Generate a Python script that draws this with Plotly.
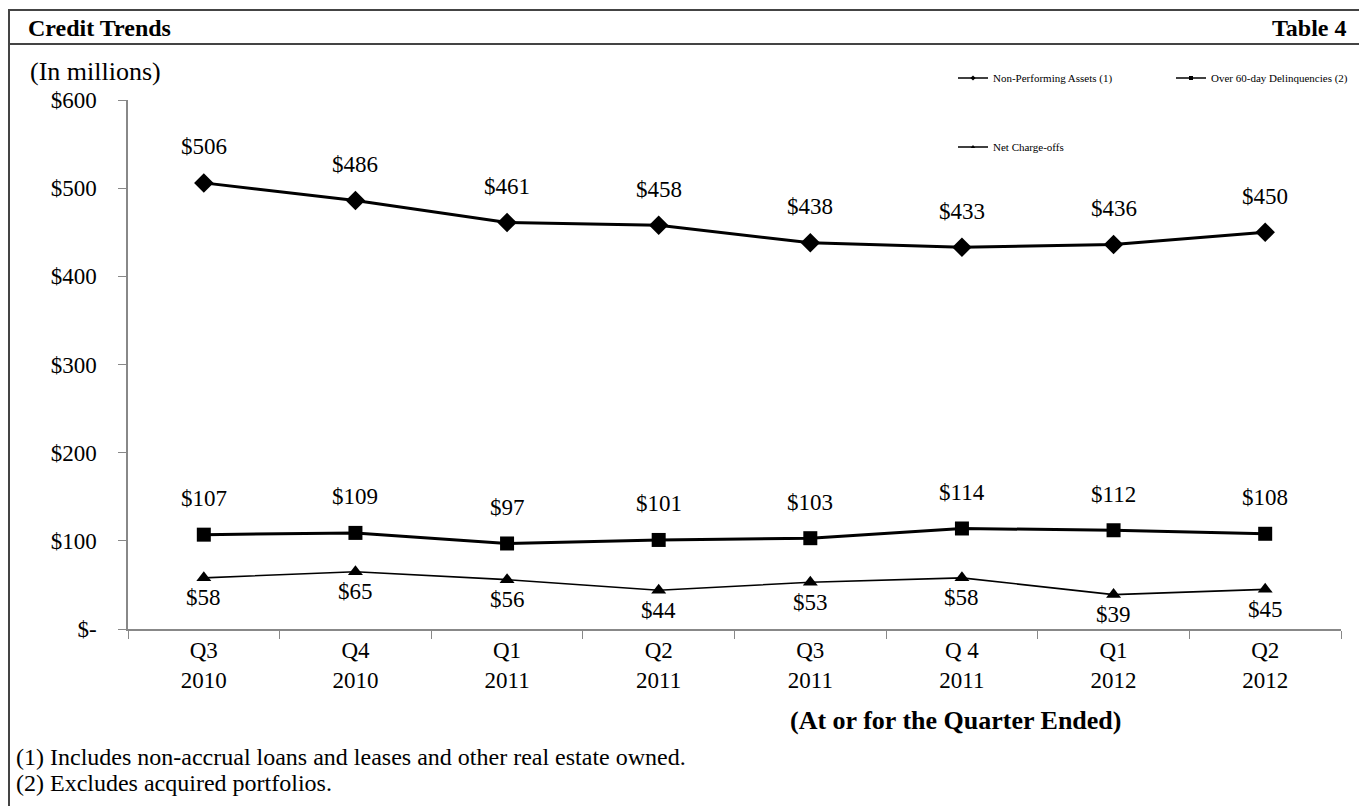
import plotly.graph_objects as go

quarters = ["Q3<br>2010", "Q4<br>2010", "Q1<br>2011", "Q2<br>2011",
            "Q3<br>2011", "Q 4<br>2011", "Q1<br>2012", "Q2<br>2012"]
npa = [506, 486, 461, 458, 438, 433, 436, 450]
delinq = [107, 109, 97, 101, 103, 114, 112, 108]
chargeoffs = [58, 65, 56, 44, 53, 58, 39, 45]

y_tickvals = [0, 100, 200, 300, 400, 500, 600]
y_ticktext = ["$-", "$100", "$200", "$300", "$400", "$500", "$600"]

# the page places the figure 8px in from the top-left corner (body margin)
OFF = 8
W, H = 1367 - OFF, 806 - OFF
PL, PR, PT, PB = 128, 1341, 100, 629          # plot area in screen pixels
L, R, T, B = PL - OFF, W - (PR - OFF), PT - OFF, H - (PB - OFF)
PW, PH = W - L - R, H - T - B

def px(x):   # screen x -> paper
    return (x - OFF - L) / PW

def py(y):   # screen y -> paper
    return (H - B - (y - OFF)) / PH

FONT = "Liberation Serif, Times New Roman, serif"

fig = go.Figure()

fig.add_trace(go.Scatter(x=quarters, y=npa, mode="lines+markers", showlegend=False,
                         line=dict(color="black", width=3),
                         marker=dict(symbol="diamond", size=15, color="black")))
fig.add_trace(go.Scatter(x=quarters, y=delinq, mode="lines+markers", showlegend=False,
                         line=dict(color="black", width=3),
                         marker=dict(symbol="square", size=14, color="black")))
fig.add_trace(go.Scatter(x=quarters, y=chargeoffs, mode="lines+markers", showlegend=False,
                         line=dict(color="black", width=1.6),
                         marker=dict(symbol="triangle-up", size=13, color="black")))

# legend entries
fig.add_trace(go.Scatter(x=[None], y=[None], mode="lines+markers", name="Non-Performing Assets (1)",
                         line=dict(color="black", width=1.5),
                         marker=dict(symbol="diamond", size=4, color="black"), legend="legend"))
fig.add_trace(go.Scatter(x=[None], y=[None], mode="lines+markers", name="Over 60-day Delinquencies (2)",
                         line=dict(color="black", width=1.5),
                         marker=dict(symbol="square", size=4, color="black"), legend="legend2"))
fig.add_trace(go.Scatter(x=[None], y=[None], mode="lines+markers", name="Net Charge-offs",
                         line=dict(color="black", width=1.5),
                         marker=dict(symbol="triangle-up", size=4, color="black"), legend="legend3"))

LBL = dict(size=23, family=FONT, color="black")
annotations = []
for q, v in zip(quarters, npa):
    annotations.append(dict(x=q, y=v, text=f"${v}", showarrow=False, yshift=36, font=LBL))
for q, v in zip(quarters, delinq):
    annotations.append(dict(x=q, y=v, text=f"${v}", showarrow=False, yshift=36, font=LBL))
for q, v in zip(quarters, chargeoffs):
    annotations.append(dict(x=q, y=v, text=f"${v}", showarrow=False, yshift=-20, font=LBL))

annotations += [
    dict(xref="paper", yref="paper", x=px(26), y=py(28), xanchor="left", yanchor="middle",
         text="<b>Credit Trends</b>", showarrow=False, font=dict(size=24, family=FONT, color="black")),
    dict(xref="paper", yref="paper", x=px(1348), y=py(28), xanchor="right", yanchor="middle",
         text="<b>Table 4</b>", showarrow=False, font=dict(size=24, family=FONT, color="black")),
    dict(xref="paper", yref="paper", x=px(28), y=py(72), xanchor="left", yanchor="middle",
         text="(In millions)", showarrow=False, font=dict(size=26, family=FONT, color="black")),
    dict(xref="paper", yref="paper", x=px(955), y=py(721), xanchor="center", yanchor="middle",
         text="<b>(At or for the Quarter Ended)</b>", showarrow=False,
         font=dict(size=26, family=FONT, color="black")),
    dict(xref="paper", yref="paper", x=px(14), y=py(757), xanchor="left", yanchor="middle",
         text="(1) Includes non-accrual loans and leases and other real estate owned.", showarrow=False,
         font=dict(size=24, family=FONT, color="black")),
    dict(xref="paper", yref="paper", x=px(14), y=py(783), xanchor="left", yanchor="middle",
         text="(2) Excludes acquired portfolios.", showarrow=False,
         font=dict(size=24, family=FONT, color="black")),
]

frame = "#444444"
shapes = [
    dict(type="line", xref="paper", yref="paper", x0=px(8), x1=px(1367), y0=py(10), y1=py(10),
         line=dict(color=frame, width=2)),
    dict(type="line", xref="paper", yref="paper", x0=px(8), x1=px(1367), y0=py(44), y1=py(44),
         line=dict(color=frame, width=2)),
    dict(type="line", xref="paper", yref="paper", x0=px(9), x1=px(9), y0=py(10), y1=py(806),
         line=dict(color=frame, width=2)),
]

LEG = dict(orientation="h", xanchor="left", yanchor="middle",
           font=dict(size=11, family=FONT, color="black"),
           bgcolor="rgba(0,0,0,0)", itemwidth=30)

fig.update_layout(
    width=W, height=H,
    margin=dict(l=L, r=R, t=T, b=B, autoexpand=False),
    paper_bgcolor="white", plot_bgcolor="white",
    font=dict(family=FONT, size=23, color="black"),
    annotations=annotations, shapes=shapes,
    legend=dict(LEG, x=px(953), y=py(78)),
    legend2=dict(LEG, x=px(1171), y=py(78)),
    legend3=dict(LEG, x=px(953), y=py(147)),
    xaxis=dict(type="category", showline=True, linecolor="#888888", linewidth=1.5,
               ticks="outside", ticklen=8, tickcolor="#888888", tickson="boundaries",
               showgrid=False, zeroline=False, tickfont=dict(size=23, family=FONT, color="black"),
               range=[-0.5, 7.5]),
    yaxis=dict(range=[0, 600], tickvals=y_tickvals, ticktext=y_ticktext, showline=True,
               linecolor="#888888", linewidth=1.5, ticks="outside", ticklen=8, tickcolor="#888888",
               showgrid=False, zeroline=False, ticklabelstandoff=17,
               tickfont=dict(size=23, family=FONT, color="black")),
)

fig.write_html("out.html")
